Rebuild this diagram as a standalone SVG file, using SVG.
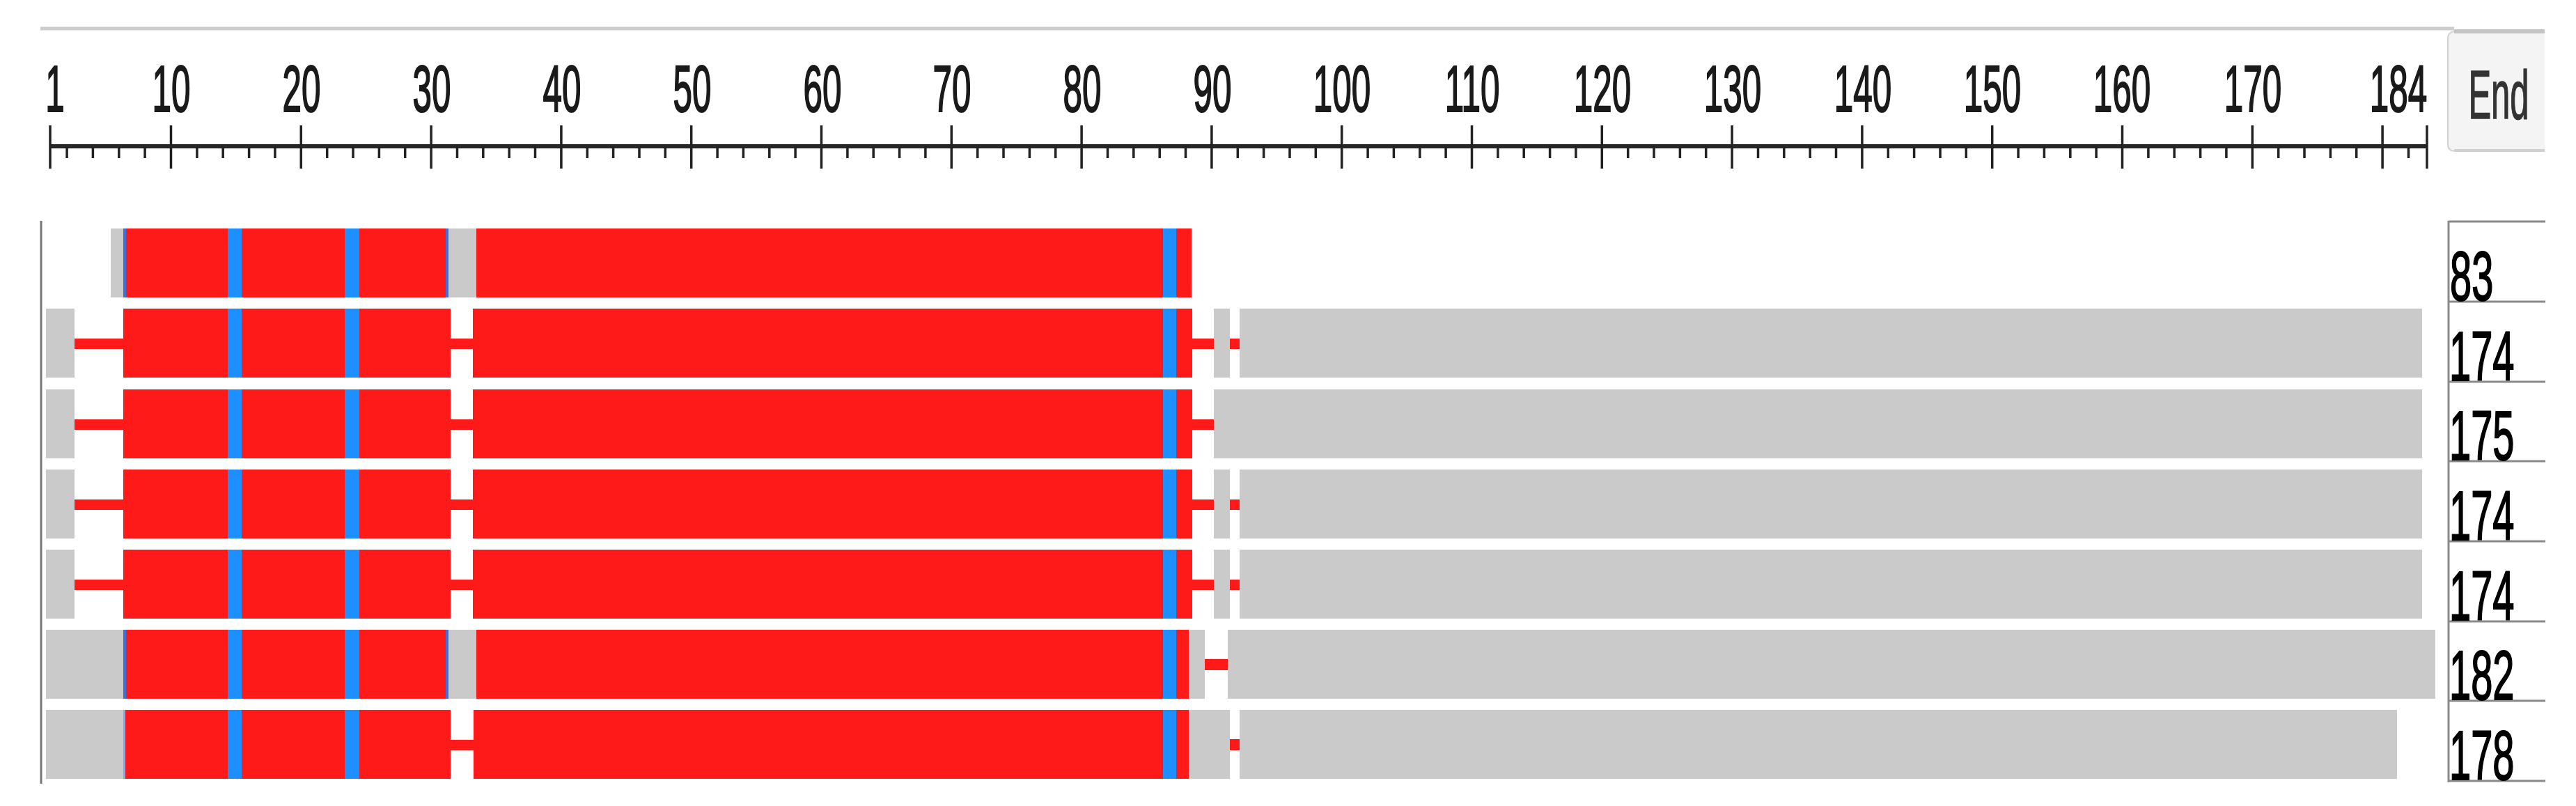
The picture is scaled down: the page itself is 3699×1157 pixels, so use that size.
<svg xmlns="http://www.w3.org/2000/svg" width="3699" height="1157" viewBox="0 0 3699 1157">
<style>
.red{fill:#ff1a1a}
.blue{fill:#1e8fff}
.edge{fill:#3f6fd8}
.gray{fill:#cacaca}
.tick{stroke:#222;stroke-width:3.5;fill:none}
.num{font-family:"Liberation Sans",Arial,sans-serif;font-size:95px;fill:#1a1a1a;stroke:#1a1a1a;stroke-width:2.2;text-anchor:middle}
.cnt{font-family:"Liberation Sans",Arial,sans-serif;font-size:100px;fill:#000;stroke:#000;stroke-width:2}
.grid{stroke:#8a8a8a;stroke-width:3;fill:none}
</style>
<rect width="3699" height="1157" fill="#fff"/>
<g id="header">
<line x1="58" y1="41" x2="3524" y2="41" stroke="#cdcdcd" stroke-width="5"/>
</g>
<g id="end-button">
<path d="M3654 45 H3526 Q3515 45 3515 56 V207 Q3515 217 3526 217 H3654 Z" fill="#f4f4f4"/>
<path d="M3654 45 H3526 Q3515 45 3515 56 V207 Q3515 217 3526 217 H3654" fill="none" stroke="#d2d2d2" stroke-width="2"/>
<line x1="3524" y1="45" x2="3654" y2="45" stroke="#c4c4c4" stroke-width="6"/>
<line x1="3524" y1="216" x2="3654" y2="216" stroke="#d0d0d0" stroke-width="4"/>
<text class="num" transform="translate(3588,170) scale(0.5,1)" style="font-size:98px;fill:#333;stroke:#333;stroke-width:1.5">End</text>
</g>
<g id="ruler">
<line x1="72" y1="210" x2="3485" y2="210" stroke="#262626" stroke-width="6"/>
<path class="tick" d="M72 180V242M245.5 180V242M432.3 180V242M619.1 180V242M805.9 180V242M992.7 180V242M1179.5 180V242M1366.3 180V242M1553.1 180V242M1739.9 180V242M1926.7 180V242M2113.5 180V242M2300.3 180V242M2487.1 180V242M2673.9 180V242M2860.7 180V242M3047.5 180V242M3234.3 180V242M3421.1 180V242M3485 180V242"/>
<path class="tick" d="M96.1 210V227M133.4 210V227M170.8 210V227M208.1 210V227M282.9 210V227M320.2 210V227M357.6 210V227M394.9 210V227M469.7 210V227M507 210V227M544.4 210V227M581.7 210V227M656.5 210V227M693.8 210V227M731.2 210V227M768.5 210V227M843.3 210V227M880.6 210V227M918 210V227M955.3 210V227M1030.1 210V227M1067.4 210V227M1104.8 210V227M1142.1 210V227M1216.9 210V227M1254.2 210V227M1291.6 210V227M1328.9 210V227M1403.7 210V227M1441 210V227M1478.4 210V227M1515.7 210V227M1590.5 210V227M1627.8 210V227M1665.2 210V227M1702.5 210V227M1777.3 210V227M1814.6 210V227M1852 210V227M1889.3 210V227M1964.1 210V227M2001.4 210V227M2038.8 210V227M2076.1 210V227M2150.9 210V227M2188.2 210V227M2225.6 210V227M2262.9 210V227M2337.7 210V227M2375 210V227M2412.4 210V227M2449.7 210V227M2524.5 210V227M2561.8 210V227M2599.2 210V227M2636.5 210V227M2711.3 210V227M2748.6 210V227M2786 210V227M2823.3 210V227M2898.1 210V227M2935.4 210V227M2972.8 210V227M3010.1 210V227M3084.9 210V227M3122.2 210V227M3159.6 210V227M3196.9 210V227M3271.7 210V227M3309 210V227M3346.4 210V227M3383.7 210V227M3458.5 210V227"/>
<text class="num" transform="translate(79,160) scale(0.52,1)">1</text>
<text class="num" transform="translate(246,160) scale(0.52,1)">10</text>
<text class="num" transform="translate(433,160) scale(0.52,1)">20</text>
<text class="num" transform="translate(620,160) scale(0.52,1)">30</text>
<text class="num" transform="translate(807,160) scale(0.52,1)">40</text>
<text class="num" transform="translate(994,160) scale(0.52,1)">50</text>
<text class="num" transform="translate(1181,160) scale(0.52,1)">60</text>
<text class="num" transform="translate(1367,160) scale(0.52,1)">70</text>
<text class="num" transform="translate(1554,160) scale(0.52,1)">80</text>
<text class="num" transform="translate(1741,160) scale(0.52,1)">90</text>
<text class="num" transform="translate(1927,160) scale(0.52,1)">100</text>
<text class="num" transform="translate(2114,160) scale(0.52,1)">110</text>
<text class="num" transform="translate(2301,160) scale(0.52,1)">120</text>
<text class="num" transform="translate(2488,160) scale(0.52,1)">130</text>
<text class="num" transform="translate(2675,160) scale(0.52,1)">140</text>
<text class="num" transform="translate(2861,160) scale(0.52,1)">150</text>
<text class="num" transform="translate(3047,160) scale(0.52,1)">160</text>
<text class="num" transform="translate(3235,160) scale(0.52,1)">170</text>
<text class="num" transform="translate(3444,160) scale(0.52,1)">184</text>
</g>
<g id="frame">
<line x1="59" y1="317" x2="59" y2="1125" stroke="#777" stroke-width="3"/>
</g>
<g id="row-1">
<rect class="gray" x="159" y="328" width="20" height="99"/>
<rect class="red" x="177" y="328" width="466" height="99"/>
<rect class="gray" x="643" y="328" width="41" height="99"/>
<rect class="red" x="684" y="328" width="1027" height="99"/>
<rect class="edge" x="177" y="328" width="4" height="99"/>
<rect class="edge" x="640" y="328" width="4" height="99"/>
<rect class="blue" x="327" y="328" width="20" height="99"/>
<rect class="blue" x="495" y="328" width="21" height="99"/>
<rect class="blue" x="1670" y="328" width="19" height="99"/>
</g>
<g id="row-2">
<rect class="gray" x="66" y="443" width="41" height="99"/>
<rect class="red" x="107" y="486" width="70" height="15"/>
<rect class="red" x="177" y="443" width="470" height="99"/>
<rect class="red" x="647" y="486" width="32" height="15"/>
<rect class="red" x="679" y="443" width="1033" height="99"/>
<rect class="blue" x="327" y="443" width="20" height="99"/>
<rect class="blue" x="495" y="443" width="21" height="99"/>
<rect class="blue" x="1670" y="443" width="19" height="99"/>
<rect class="red" x="1712" y="486" width="31" height="15"/>
<rect class="gray" x="1743" y="443" width="23" height="99"/>
<rect class="red" x="1766" y="486" width="14" height="15"/>
<rect class="gray" x="1780" y="443" width="1698" height="99"/>
</g>
<g id="row-3">
<rect class="gray" x="66" y="559" width="41" height="99"/>
<rect class="red" x="107" y="602" width="70" height="15"/>
<rect class="red" x="177" y="559" width="470" height="99"/>
<rect class="red" x="647" y="602" width="32" height="15"/>
<rect class="red" x="679" y="559" width="1033" height="99"/>
<rect class="blue" x="327" y="559" width="20" height="99"/>
<rect class="blue" x="495" y="559" width="21" height="99"/>
<rect class="blue" x="1670" y="559" width="19" height="99"/>
<rect class="red" x="1712" y="602" width="31" height="15"/>
<rect class="gray" x="1743" y="559" width="1735" height="99"/>
</g>
<g id="row-4">
<rect class="gray" x="66" y="674" width="41" height="99"/>
<rect class="red" x="107" y="717" width="70" height="15"/>
<rect class="red" x="177" y="674" width="470" height="99"/>
<rect class="red" x="647" y="717" width="32" height="15"/>
<rect class="red" x="679" y="674" width="1033" height="99"/>
<rect class="blue" x="327" y="674" width="20" height="99"/>
<rect class="blue" x="495" y="674" width="21" height="99"/>
<rect class="blue" x="1670" y="674" width="19" height="99"/>
<rect class="red" x="1712" y="717" width="31" height="15"/>
<rect class="gray" x="1743" y="674" width="23" height="99"/>
<rect class="red" x="1766" y="717" width="14" height="15"/>
<rect class="gray" x="1780" y="674" width="1698" height="99"/>
</g>
<g id="row-5">
<rect class="gray" x="66" y="789" width="41" height="99"/>
<rect class="red" x="107" y="832" width="70" height="15"/>
<rect class="red" x="177" y="789" width="470" height="99"/>
<rect class="red" x="647" y="832" width="32" height="15"/>
<rect class="red" x="679" y="789" width="1033" height="99"/>
<rect class="blue" x="327" y="789" width="20" height="99"/>
<rect class="blue" x="495" y="789" width="21" height="99"/>
<rect class="blue" x="1670" y="789" width="19" height="99"/>
<rect class="red" x="1712" y="832" width="31" height="15"/>
<rect class="gray" x="1743" y="789" width="23" height="99"/>
<rect class="red" x="1766" y="832" width="14" height="15"/>
<rect class="gray" x="1780" y="789" width="1698" height="99"/>
</g>
<g id="row-6">
<rect class="gray" x="66" y="904" width="113" height="99"/>
<rect class="red" x="177" y="904" width="466" height="99"/>
<rect class="gray" x="643" y="904" width="41" height="99"/>
<rect class="red" x="684" y="904" width="1023" height="99"/>
<rect class="edge" x="177" y="904" width="4" height="99"/>
<rect class="edge" x="640" y="904" width="4" height="99"/>
<rect class="blue" x="327" y="904" width="20" height="99"/>
<rect class="blue" x="495" y="904" width="21" height="99"/>
<rect class="blue" x="1670" y="904" width="19" height="99"/>
<rect class="gray" x="1707" y="904" width="23" height="99"/>
<rect class="red" x="1730" y="946" width="33" height="16"/>
<rect class="gray" x="1763" y="904" width="1734" height="99"/>
</g>
<g id="row-7">
<rect class="gray" x="66" y="1019" width="113" height="99"/>
<rect class="red" x="177" y="1019" width="470" height="99"/>
<rect class="edge" x="177" y="1019" width="3" height="99" style="fill:#6fb0ff"/>
<rect class="red" x="647" y="1062" width="33" height="15"/>
<rect class="red" x="680" y="1019" width="1027" height="99"/>
<rect class="blue" x="327" y="1019" width="20" height="99"/>
<rect class="blue" x="495" y="1019" width="21" height="99"/>
<rect class="blue" x="1670" y="1019" width="19" height="99"/>
<rect class="gray" x="1707" y="1019" width="59" height="99"/>
<rect class="red" x="1766" y="1061" width="14" height="16"/>
<rect class="gray" x="1780" y="1019" width="1662" height="99"/>
</g>
<g id="lengths">
<path class="grid" d="M3516 317V1123M3516 318H3655M3516 433H3655M3516 548H3655M3516 662H3655M3516 777H3655M3516 892H3655M3516 1006H3655M3516 1121H3655"/>
<text class="cnt" transform="translate(3518,431) scale(0.56,1)">83</text>
<text class="cnt" transform="translate(3517,546) scale(0.56,1)">174</text>
<text class="cnt" transform="translate(3517,660) scale(0.56,1)">175</text>
<text class="cnt" transform="translate(3517,775) scale(0.56,1)">174</text>
<text class="cnt" transform="translate(3517,890) scale(0.56,1)">174</text>
<text class="cnt" transform="translate(3517,1004) scale(0.56,1)">182</text>
<text class="cnt" transform="translate(3517,1119) scale(0.56,1)">178</text>
</g>
<g id="connectors"/>
</svg>
